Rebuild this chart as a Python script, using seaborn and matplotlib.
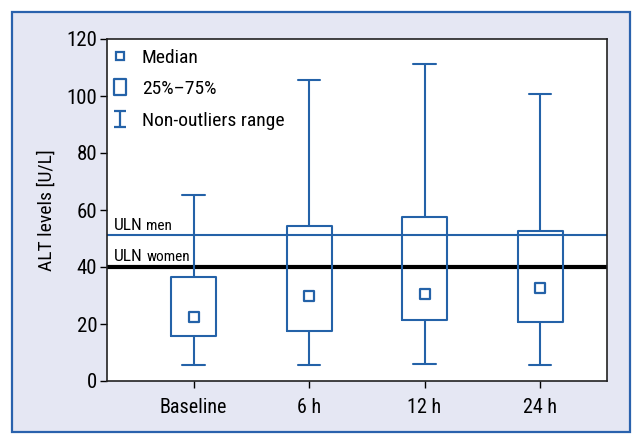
import numpy as np
import pandas as pd
import matplotlib
matplotlib.use("Agg")
import matplotlib.pyplot as plt
from matplotlib.lines import Line2D
from matplotlib.path import Path
from matplotlib.patches import Rectangle
import seaborn as sns

# ---- data ----
categories = ["Baseline", "6 h", "12 h", "24 h"]
whisker_low = [5.7, 5.7, 5.8, 5.7]
q1 = [15.9, 17.5, 21.4, 20.8]
median = [22.4, 29.8, 30.4, 32.7]
q3 = [36.4, 54.3, 57.6, 52.8]
whisker_high = [65.4, 105.5, 111.2, 100.6]
uln_men = 51.2
uln_women = 40
yticks = [0, 20, 40, 60, 80, 100, 120]

# five-number rows -> percentiles 0/25/50/75/100 reproduce the box exactly
rows = []
for i, c in enumerate(categories):
    for v in (whisker_low[i], q1[i], median[i], q3[i], whisker_high[i]):
        rows.append({"time": c, "alt": v})
df = pd.DataFrame(rows)
med_df = pd.DataFrame({"time": categories, "alt": median})

sns.set_theme(style="white")
plt.rcParams["font.family"] = ["Roboto Condensed", "Liberation Sans Narrow",
                               "Roboto", "DejaVu Sans"]
plt.rcParams["text.color"] = "black"
plt.rcParams["axes.labelcolor"] = "black"
plt.rcParams["xtick.color"] = "black"
plt.rcParams["ytick.color"] = "black"

BLUE = "#2462a8"

fig = plt.figure(figsize=(6.43, 4.45), dpi=100)
fig.patch.set_facecolor("white")
bg = Rectangle((12 / 643, 13 / 445), 618 / 643, 420 / 445,
               transform=fig.transFigure, facecolor="#e5e7f3",
               edgecolor="#2a62ad", linewidth=1.6, zorder=-10)
fig.add_artist(bg)
ax = fig.add_axes([107 / 643, (445 - 381) / 445, 500 / 643, 342 / 445])
ax.set_zorder(1)
ax.set_facecolor("white")

ax.axhline(uln_men, color=BLUE, lw=1.5, zorder=1)
ax.axhline(uln_women, color="black", lw=3, zorder=1)

sns.boxplot(data=df, x="time", y="alt", order=categories, ax=ax,
            whis=(0, 100), width=0.39, fill=False, color=BLUE, linewidth=1.5,
            showfliers=False, medianprops={"visible": False})
sns.stripplot(data=med_df, x="time", y="alt", order=categories, ax=ax,
              jitter=False, marker="s", color="white", edgecolor=BLUE,
              linewidth=1.6, size=6.5, zorder=5)

ax.set_xlim(-0.75, 3.58)
ax.set_ylim(0, 120)
ax.set_yticks(yticks)
ax.set_xlabel("")
ax.set_ylabel("ALT levels [U/L]", fontsize=14, labelpad=8)
ax.tick_params(axis="both", labelsize=15, length=5, width=1, color="black",
               left=True, bottom=True, direction="out")
ax.tick_params(axis="x", labelsize=14.5, pad=7)
ax.tick_params(axis="y", pad=2)
for s in ax.spines.values():
    s.set_color("#222222")
    s.set_linewidth(1.2)

ytr = ax.get_yaxis_transform()
for yv, small in ((uln_men, "men"), (uln_women, "women")):
    t = ax.text(0.013, yv + 0.9, "ULN", transform=ytr, fontsize=12.5,
                va="bottom", ha="left")
    ax.annotate(small, xy=(1, 0), xycoords=t, xytext=(3, 0),
                textcoords="offset points", fontsize=11, va="bottom", ha="left")

rect_path = Path([(-0.36, -0.5), (0.36, -0.5), (0.36, 0.5), (-0.36, 0.5), (-0.36, -0.5)],
                 [Path.MOVETO, Path.LINETO, Path.LINETO, Path.LINETO, Path.CLOSEPOLY])
ibar_path = Path([(-0.36, -0.5), (0.36, -0.5), (0, -0.5), (0, 0.5), (-0.36, 0.5), (0.36, 0.5)],
                 [Path.MOVETO, Path.LINETO, Path.MOVETO, Path.LINETO, Path.MOVETO, Path.LINETO])
handles = [
    Line2D([], [], ls="none", marker="s", ms=6, mfc="white", mec=BLUE, mew=1.6),
    Line2D([], [], ls="none", marker=rect_path, ms=12, mfc="none", mec=BLUE, mew=1.6),
    Line2D([], [], ls="none", marker=ibar_path, ms=12, mfc="none", mec=BLUE, mew=1.6),
]
ax.legend(handles, ["Median", "25%–75%", "Non-outliers range"], loc="upper left",
          frameon=False, fontsize=14, handlelength=1.0, handletextpad=0.6,
          labelspacing=0.7, borderaxespad=0.3, bbox_to_anchor=(-0.02, 1.012))

fig.savefig("out.png", dpi=100)
